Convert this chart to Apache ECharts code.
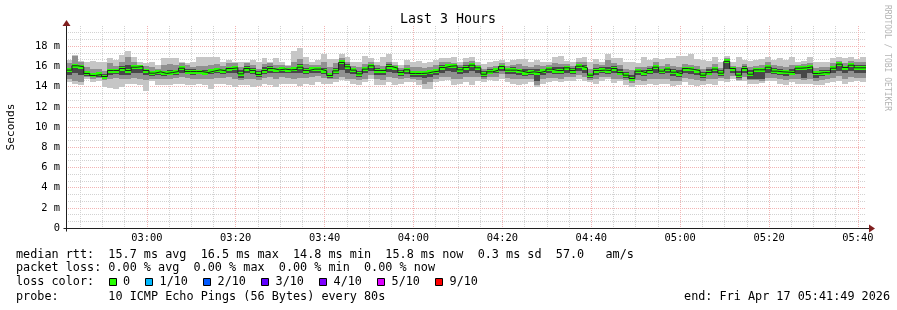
<!DOCTYPE html>
<html><head><meta charset="utf-8">
<script src="https://cdn.jsdelivr.net/npm/echarts@6/dist/echarts.min.js"></script>
<style>html,body{margin:0;padding:0;background:#fff}#c{width:897px;height:310px}</style>
</head><body><div id="c"></div><script>
// ---- time frame (minutes since midnight) ----
const startMinute = 2 * 60 + 41 + 49 / 60;   // 02:41:49
const endMinute = 5 * 60 + 41 + 49 / 60;     // 05:41:49
const stepMinutes = 80 / 60;                 // 80 s probe step

// ---- median RTT per step (ms) ----
const median = [
15.63,16.06,15.96,15.30,15.10,15.20,15.00,15.59,15.59,15.79,15.59,15.92,15.99,15.59,15.33,15.46,15.30,15.39,15.49,15.82,15.49,15.49,15.49,15.39,15.53,15.66,15.56,15.79,15.86,15.26,15.79,15.59,15.20,15.59,15.79,15.66,15.73,15.66,15.70,15.92,15.59,15.73,15.73,15.56,15.10,
15.56,16.39,15.96,15.63,15.26,15.73,16.06,15.59,15.59,15.99,15.82,15.39,15.66,15.30,15.30,15.33,15.46,15.53,15.89,16.02,16.06,15.66,15.89,16.12,15.86,15.23,15.46,15.63,15.99,15.63,15.63,15.53,15.39,15.46,15.39,15.53,15.73,15.59,15.59,15.86,15.59,16.02,15.86,15.13,15.59,
15.63,15.59,15.79,15.39,15.13,14.80,15.53,15.36,15.59,15.92,15.53,15.73,15.43,15.26,15.79,15.70,15.59,15.13,15.39,15.73,15.33,16.50,15.79,15.13,15.79,15.23,15.66,15.66,15.92,15.53,15.46,15.43,15.39,15.82,15.86,15.96,15.30,15.39,15.36,15.82,16.22,15.89,16.12,15.86,15.86];

// ---- smoke: outer (all pings) ----
const smokeMax = [
16.62,17.11,16.52,16.45,16.52,16.45,16.39,16.88,16.62,17.11,17.51,16.95,16.39,16.29,16.39,16.12,16.85,16.85,16.85,16.39,16.29,16.39,16.95,16.95,16.95,16.95,16.39,16.62,16.39,16.39,16.39,16.62,16.39,16.85,16.39,16.85,16.39,16.12,17.51,17.84,16.95,16.45,16.62,17.18,16.72,
16.78,17.18,16.95,16.45,16.45,17.05,16.85,16.39,16.95,17.18,16.45,16.12,16.62,16.45,16.52,16.29,16.39,16.62,16.85,16.85,16.95,16.45,16.85,16.95,16.39,16.19,16.39,16.52,16.62,16.39,16.62,16.78,16.72,16.39,16.62,16.45,16.39,16.95,17.05,16.52,16.39,16.85,16.95,16.45,16.72,
16.39,17.18,16.85,16.85,16.45,16.39,16.29,16.95,16.62,16.85,16.78,16.85,16.85,17.05,17.05,17.18,16.72,16.62,16.52,16.95,16.39,17.05,16.39,16.95,16.62,16.52,16.62,16.72,16.95,16.62,16.85,16.62,16.95,16.39,16.52,16.95,16.39,16.45,16.39,16.85,16.95,16.85,16.95,16.78,16.95];
const smokeMin = [
14.47,14.30,14.14,14.73,14.47,14.54,13.97,13.87,13.81,13.97,14.30,14.30,14.14,13.54,14.54,14.14,14.14,14.14,14.30,14.30,14.14,14.14,14.30,14.14,13.81,14.30,14.30,14.14,13.97,14.20,14.14,13.97,14.07,14.30,14.14,13.97,14.30,14.30,14.30,14.07,14.30,14.14,14.47,14.30,14.30,
14.47,14.63,14.54,14.30,14.14,14.47,14.73,14.20,14.14,14.47,14.20,14.30,14.47,14.47,14.14,13.81,13.81,14.47,14.54,14.63,14.14,14.30,14.47,14.14,14.54,14.47,14.63,14.54,14.80,14.47,14.30,14.20,14.30,14.47,13.97,14.30,14.47,14.54,14.47,14.54,14.54,14.73,14.54,14.47,14.30,
14.54,14.73,14.40,14.54,14.20,13.97,14.14,14.14,14.30,14.20,14.30,14.30,14.07,14.20,14.47,14.14,14.07,14.14,14.30,14.20,14.54,14.47,14.73,14.54,14.54,14.30,14.30,14.40,14.54,14.54,14.30,14.20,14.47,14.30,14.30,14.30,14.20,14.14,14.40,14.47,14.54,14.30,14.47,14.54,14.47];

// ---- smoke: middle pings ----
const midHi = [
16.29,17.05,16.45,15.96,15.73,15.79,15.53,16.29,16.06,16.45,16.95,16.39,16.12,16.06,15.96,15.79,16.12,16.19,16.12,16.29,16.12,15.96,16.06,16.06,16.12,16.19,16.06,16.29,16.29,15.96,16.29,16.12,15.79,16.19,16.29,16.12,16.12,16.06,16.45,16.78,16.19,16.12,16.12,16.39,15.96,
16.29,16.85,16.39,16.06,15.96,16.19,16.45,16.12,16.06,16.45,16.12,15.86,16.12,15.96,15.96,15.86,15.96,16.12,16.39,16.45,16.29,16.12,16.39,16.52,16.12,15.79,15.96,16.06,16.29,16.06,16.12,16.19,16.06,15.96,16.12,16.06,16.12,16.29,16.19,16.19,16.06,16.39,16.39,15.79,16.19,
16.12,16.62,16.29,16.12,15.79,15.63,15.96,15.96,16.06,16.39,16.06,16.19,16.06,15.96,16.19,16.12,16.06,15.79,15.96,16.19,15.86,16.85,16.06,15.96,16.19,15.96,16.06,16.12,16.39,16.12,16.06,15.96,16.12,16.12,16.19,16.29,15.86,15.96,15.96,16.29,16.52,16.29,16.52,16.39,16.39];
const midLo = [
14.80,14.54,14.47,14.97,14.80,14.87,14.63,14.80,14.87,14.73,14.73,14.87,14.80,14.63,14.73,14.80,14.73,14.80,14.87,14.97,14.87,14.73,14.80,14.73,14.80,14.87,14.87,14.97,14.80,14.63,14.80,14.73,14.63,14.87,14.97,14.80,14.97,14.87,14.80,14.87,14.87,14.97,15.06,14.87,14.73,
14.80,14.97,14.80,14.73,14.63,14.80,15.13,14.73,14.63,14.97,14.87,14.73,14.87,14.73,14.63,14.30,14.47,14.73,14.97,14.97,14.73,14.80,14.97,14.97,14.97,14.73,14.97,14.97,15.20,14.87,14.80,14.73,14.73,14.73,14.20,14.73,14.87,14.87,14.80,14.97,14.97,15.13,14.97,14.63,14.73,
14.97,14.97,14.80,14.73,14.63,14.40,14.63,14.54,14.73,14.80,14.73,14.73,14.54,14.54,14.87,14.73,14.63,14.54,14.73,14.73,14.87,14.80,15.06,14.63,14.97,14.63,14.63,14.54,14.87,14.87,14.73,14.63,14.73,14.73,14.63,14.80,14.54,14.63,14.80,14.87,15.06,14.73,14.97,14.87,14.87];

// ---- smoke: inner pings ----
const innerHi = [
15.86,16.19,16.06,15.46,15.30,15.39,15.20,15.79,15.79,16.06,16.12,16.06,16.10,15.73,15.53,15.63,15.53,15.63,15.63,15.96,15.73,15.73,15.66,15.63,15.73,15.86,15.79,15.96,16.06,15.63,16.06,15.86,15.53,15.92,16.06,15.86,15.92,15.86,15.92,16.19,15.86,15.92,15.92,15.86,15.39,
15.86,16.52,16.19,15.79,15.59,15.92,16.19,15.86,15.79,16.19,15.99,15.63,15.86,15.53,15.53,15.53,15.63,15.79,16.12,16.25,16.25,15.92,16.12,16.32,15.99,15.53,15.73,15.86,16.12,15.86,15.92,15.79,15.73,15.73,15.73,15.79,15.92,15.92,15.92,16.06,15.86,16.25,16.12,15.39,15.86,
15.92,15.92,16.06,15.73,15.46,15.13,15.73,15.63,15.86,16.12,15.79,15.92,15.73,15.63,15.99,15.92,15.79,15.46,15.73,15.99,15.63,16.62,15.92,15.53,16.06,15.63,15.79,15.79,16.12,15.86,15.79,15.66,15.73,15.92,15.99,16.12,15.53,15.66,15.66,16.06,16.39,16.06,16.32,16.12,16.12];
const innerLo = [
15.13,15.30,15.13,15.06,14.93,14.93,14.73,15.13,15.20,15.13,15.13,15.30,15.30,15.13,15.06,15.13,15.06,15.13,15.13,15.30,15.20,15.13,15.20,15.13,15.20,15.30,15.20,15.30,15.30,14.87,15.30,15.20,14.97,15.20,15.39,15.30,15.39,15.30,15.30,15.39,15.20,15.30,15.39,15.20,14.87,
15.20,15.63,15.30,15.20,14.97,15.30,15.53,15.13,15.13,15.46,15.30,15.06,15.26,14.97,14.97,14.87,14.97,15.13,15.39,15.53,15.46,15.26,15.39,15.53,15.39,14.97,15.20,15.30,15.53,15.26,15.26,15.13,15.06,15.13,14.54,15.13,15.30,15.26,15.20,15.39,15.26,15.53,15.39,14.87,15.13,
15.30,15.26,15.39,15.13,14.87,14.54,15.13,15.06,15.26,15.39,15.20,15.30,15.06,14.97,15.39,15.26,15.13,14.87,15.13,15.30,15.06,15.79,15.30,14.87,15.39,14.80,14.80,14.73,15.39,15.20,15.13,15.06,15.13,15.26,14.87,15.39,14.87,15.06,15.13,15.39,15.53,15.30,15.53,15.39,15.39];

// ---- axis ticks / labels ----
const xTickValues = [180, 200, 220, 240, 260, 280, 300, 320, 340];
const xTickLabels = ['03:00','03:20','03:40','04:00','04:20','04:40','05:00','05:20','05:40'];
const xMinorValues = [165,170,175,185,190,195,205,210,215,225,230,235,245,250,255,265,270,275,285,290,295,305,310,315,325,330,335];
const yTickLabels = ['0','2 m','4 m','6 m','8 m','10 m','12 m','14 m','16 m','18 m'];

// ---- legend texts ----
const titleText = 'Last 3 Hours';
const legendLines = [
  'median rtt:  15.7 ms avg  16.5 ms max  14.8 ms min  15.8 ms now  0.3 ms sd  57.0   am/s',
  'packet loss: 0.00 % avg  0.00 % max  0.00 % min  0.00 % now',
  'loss color:',
  'probe:       10 ICMP Echo Pings (56 Bytes) every 80s'
];
const lossLabels = ['0','1/10','2/10','3/10','4/10','5/10','9/10'];
const lossColors = ['#26ff00','#00b8ff','#0059ff','#5e00ff','#7e00ff','#dd00ff','#ff0000'];
const endText = 'end: Fri Apr 17 05:41:49 2026';
const watermark = 'RRDTOOL / TOBI OETIKER';

// ---- styling ----
const FONT = 'DejaVu Sans Mono';
const MAJOR = '#f2b4b4';
const MINOR = '#d2d2d2';
const AXIS = '#1f1f1f';
const ARROW = '#801f1f';

const chart = echarts.init(document.getElementById('c'), null, {renderer: 'canvas', width: 897, height: 310});
const stepStarts = median.map((_, i) => startMinute + i * stepMinutes);

function bandSeries(lo, hi, color) {
  return {
    type: 'custom', silent: true, clip: true,
    data: lo.map((v, i) => [stepStarts[i], stepStarts[i] + stepMinutes, v, hi[i]]),
    encode: {x: [0, 1], y: [2, 3]},
    renderItem(params, api) {
      const a = api.coord([api.value(0), api.value(3)]);
      const b = api.coord([api.value(1), api.value(2)]);
      const x0 = Math.round(a[0]), x1 = Math.round(b[0]);
      const y0 = Math.round(a[1]), y1 = Math.round(b[1]);
      return {type: 'rect', shape: {x: x0, y: y0, width: x1 - x0, height: y1 - y0}, style: {fill: color}};
    }
  };
}

const medianLineData = median.map((v, i) => [stepStarts[i], v]);
medianLineData.push([endMinute, median[median.length - 1]]);

chart.setOption({
  animation: false,
  backgroundColor: '#ffffff',
  grid: {left: 66, top: 26, width: 800, height: 202, containLabel: false},
  xAxis: [{
    type: 'value', min: startMinute, max: endMinute, position: 'bottom', z: 2,
    axisLine: {show: true, onZero: false, lineStyle: {color: AXIS, width: 1}},
    axisTick: {show: false, customValues: xTickValues},
    axisLabel: {customValues: xTickValues, margin: 5, color: '#000', fontFamily: FONT, fontSize: 10.4,
      formatter: v => xTickLabels[xTickValues.indexOf(Math.round(v))] || ''},
    splitLine: {show: true, lineStyle: {color: MAJOR, width: 1, type: [1, 1]}}
  }, {
    type: 'value', min: startMinute, max: endMinute, position: 'top', z: 1,
    axisLine: {show: false}, axisTick: {show: false, customValues: xMinorValues},
    axisLabel: {show: false, customValues: xMinorValues},
    splitLine: {show: true, lineStyle: {color: MINOR, width: 1, type: [1, 1]}}
  }],
  yAxis: {
    type: 'value', min: 0, max: 20, interval: 2, z: 2,
    axisLine: {show: true, onZero: false, lineStyle: {color: AXIS, width: 1}},
    axisTick: {show: false},
    axisLabel: {showMaxLabel: false, margin: 6, color: '#000', fontFamily: FONT, fontSize: 10.4,
      formatter: v => yTickLabels[Math.round(v / 2)] || ''},
    splitLine: {show: true, showMinLine: false, showMaxLine: false, lineStyle: {color: MAJOR, width: 1, type: [1, 1]}},
    minorTick: {show: false, splitNumber: 3},
    minorSplitLine: {show: true, lineStyle: {color: MINOR, width: 1, type: [1, 1]}}
  },
  series: [
    bandSeries(smokeMin, smokeMax, '#c6c6c6'),
    bandSeries(midLo, midHi, '#909090'),
    bandSeries(innerLo, innerHi, '#484848'),
    {type: 'line', data: medianLineData, step: 'end', symbol: 'none', silent: true,
     lineStyle: {color: '#202020', width: 1}},
    {type: 'custom', silent: true, clip: true,
     data: median.map((v, i) => [stepStarts[i], stepStarts[i] + stepMinutes, v]),
     encode: {x: [0, 1], y: 2},
     renderItem(params, api) {
       const a = api.coord([api.value(0), api.value(2)]);
       const b = api.coord([api.value(1), api.value(2)]);
       const x0 = Math.round(a[0]), x1 = Math.round(b[0]);
       return {type: 'rect', shape: {x: x0, y: Math.round(a[1]) - 2, width: x1 - x0, height: 4}, style: {fill: lossColors[0]}};
     }}
  ]
});

// ---- annotations (positions derived from the axes) ----
const pTop = chart.convertToPixel({gridIndex: 0}, [startMinute, 20]);
const pOrigin = chart.convertToPixel({gridIndex: 0}, [startMinute, 0]);
const pRight = chart.convertToPixel({gridIndex: 0}, [endMinute, 0]);
const ox = Math.round(pOrigin[0]) + 0.5, oy = Math.round(pOrigin[1]) + 0.5;
const rx = Math.round(pRight[0]), ty = Math.round(pTop[1]);

const LEG = 11.8;
const lineY = [254.5, 268.4, 282.3, 296.6];
const graphics = [];
graphics.push({type: 'text', x: 448, y: 19.5, style: {text: titleText, fontFamily: FONT, fontSize: 13.3, fill: '#000', align: 'center', verticalAlign: 'middle'}});
graphics.push({type: 'text', x: 11, y: 127, rotation: Math.PI / 2, style: {text: 'Seconds', fontFamily: FONT, fontSize: 11.1, fill: '#000', align: 'center', verticalAlign: 'middle'}});
graphics.push({type: 'text', x: 887, y: 5, rotation: -Math.PI / 2, style: {text: watermark, fontFamily: FONT, fontSize: 8, fill: '#b4b4b4', align: 'left', verticalAlign: 'middle'}});
graphics.push({type: 'line', shape: {x1: ox - 3, y1: oy, x2: rx + 3, y2: oy}, style: {stroke: AXIS, lineWidth: 1}, z: 10});
graphics.push({type: 'line', shape: {x1: ox, y1: oy + 3, x2: ox, y2: ty}, style: {stroke: AXIS, lineWidth: 1}, z: 10});
graphics.push({type: 'polygon', shape: {points: [[rx + 3, oy - 4], [rx + 9, oy], [rx + 3, oy + 4]]}, style: {fill: ARROW}, z: 10});
graphics.push({type: 'polygon', shape: {points: [[ox - 4, ty], [ox, ty - 6], [ox + 4, ty]]}, style: {fill: ARROW}, z: 10});
legendLines.forEach((t, i) => {
  graphics.push({type: 'text', x: 16, y: lineY[i], style: {text: t, fontFamily: FONT, fontSize: LEG, fill: '#000', align: 'left', verticalAlign: 'middle'}});
});
let bx = 108.7;
lossLabels.forEach((lab, i) => {
  graphics.push({type: 'rect', shape: {x: Math.round(bx) + 0.5, y: 278.5, width: 7, height: 7}, style: {fill: lossColors[i], stroke: '#000', lineWidth: 1}});
  graphics.push({type: 'text', x: bx + 14.3, y: lineY[2], style: {text: lab, fontFamily: FONT, fontSize: LEG, fill: '#000', align: 'left', verticalAlign: 'middle'}});
  bx += 29.4 + lab.length * 7.15;
});
graphics.push({type: 'text', x: 890, y: lineY[3], style: {text: endText, fontFamily: FONT, fontSize: LEG, fill: '#000', align: 'right', verticalAlign: 'middle'}});
chart.setOption({graphic: graphics});
</script></body></html>
